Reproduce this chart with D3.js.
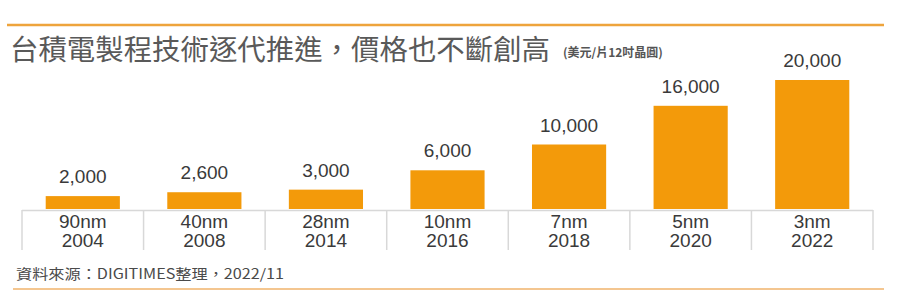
<!DOCTYPE html>
<html lang="zh-TW">
<head>
<meta charset="utf-8">
<script src="https://cdn.jsdelivr.net/npm/d3@7"></script>
<style>
  body { margin: 0; background: #fff; }
  svg text { font-family: "Liberation Sans", Arial, sans-serif; }
  .cjk { font-family: "Noto Sans CJK TC", "Noto Sans", sans-serif; }
</style>
</head>
<body>
<div id="chart"></div>
<script>
// data
const nodes = ["90nm", "40nm", "28nm", "10nm", "7nm", "5nm", "3nm"];
const years = ["2004", "2008", "2014", "2016", "2018", "2020", "2022"];
const prices = [2000, 2600, 3000, 6000, 10000, 16000, 20000];

const width = 897, height = 308;
const baseY = 209;

const svg = d3.select("#chart").append("svg")
  .attr("width", width)
  .attr("height", height);

// top and bottom rules
svg.append("line").attr("x1", 7).attr("x2", 884).attr("y1", 25).attr("y2", 25)
  .attr("stroke", "#eea43c").attr("stroke-width", 2.5);
svg.append("line").attr("x1", 13).attr("x2", 884).attr("y1", 289).attr("y2", 289)
  .attr("stroke", "#f4c690").attr("stroke-width", 2);

// title
svg.append("text").attr("class", "cjk")
  .attr("x", 10).attr("y", 60)
  .attr("font-size", 28).attr("font-weight", 400)
  .attr("fill", "#595959")
  .attr("textLength", 540).attr("lengthAdjust", "spacingAndGlyphs")
  .text("台積電製程技術逐代推進，價格也不斷創高");
svg.append("text").attr("class", "cjk")
  .attr("x", 563).attr("y", 57)
  .attr("font-size", 12).attr("font-weight", 700)
  .attr("fill", "#555")
  .text("(美元/片12吋晶圓)");

// scales
const x = d3.scaleBand().domain(nodes).range([22, 873]).paddingInner(0.39).paddingOuter(0.195);
const cell = d3.scaleBand().domain(nodes).range([22, 873]);
const y = d3.scaleLinear().domain([0, 20000]).range([baseY, 80]);

// table lines
svg.append("line").attr("x1", 22).attr("x2", 873).attr("y1", 210.5).attr("y2", 210.5)
  .attr("stroke", "#d8d8d8").attr("stroke-width", 1.5);
const bounds = nodes.map(d => cell(d)).concat([873]);
svg.selectAll(".vline").data(bounds).enter().append("line")
  .attr("x1", d => d).attr("x2", d => d)
  .attr("y1", 210).attr("y2", 250)
  .attr("stroke", "#d8d8d8").attr("stroke-width", 1.5);

// bars
svg.selectAll(".bar").data(prices).enter().append("rect")
  .attr("x", (d, i) => x(nodes[i]))
  .attr("width", x.bandwidth())
  .attr("y", d => y(d))
  .attr("height", d => baseY - y(d))
  .attr("fill", "#f39a0a");

// value labels
svg.selectAll(".val").data(prices).enter().append("text")
  .attr("x", (d, i) => x(nodes[i]) + x.bandwidth() / 2)
  .attr("y", d => y(d) - 13)
  .attr("text-anchor", "middle")
  .attr("font-size", 19).attr("fill", "#3a3a3a")
  .text(d => d3.format(",")(d));

// category labels
svg.selectAll(".node").data(nodes).enter().append("text")
  .attr("x", d => cell(d) + cell.bandwidth() / 2)
  .attr("y", 228)
  .attr("text-anchor", "middle")
  .attr("font-size", 19).attr("fill", "#3a3a3a")
  .text(d => d);
svg.selectAll(".year").data(years).enter().append("text")
  .attr("x", (d, i) => cell(nodes[i]) + cell.bandwidth() / 2)
  .attr("y", 247)
  .attr("text-anchor", "middle")
  .attr("font-size", 19).attr("fill", "#3a3a3a")
  .text(d => d);

// source
svg.append("text").attr("class", "cjk")
  .attr("x", 16).attr("y", 279)
  .attr("font-size", 14).attr("fill", "#4a4a4a")
  .attr("textLength", 268).attr("lengthAdjust", "spacingAndGlyphs")
  .text("資料來源：DIGITIMES整理，2022/11");
</script>
</body>
</html>
